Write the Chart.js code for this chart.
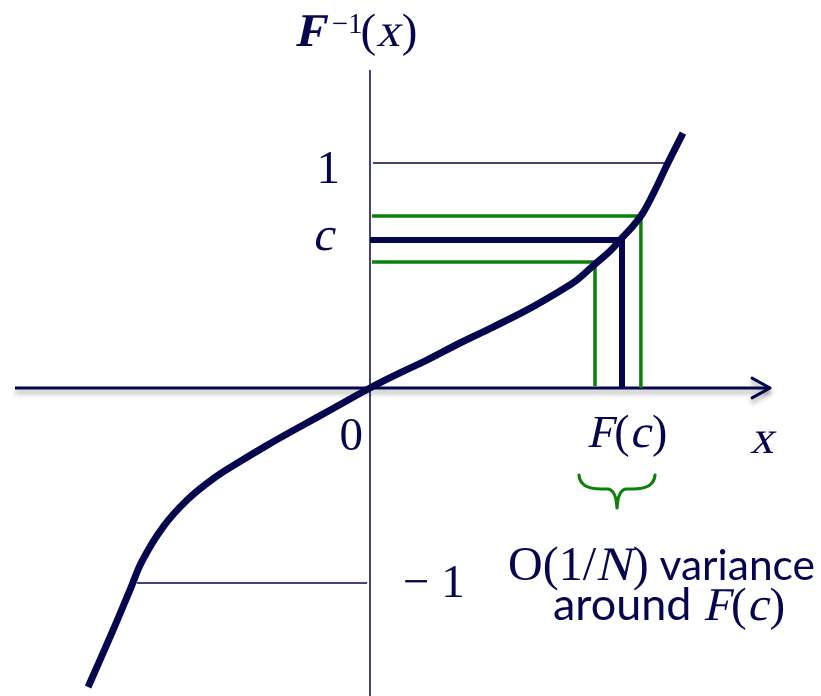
<!DOCTYPE html>
<html><head><meta charset="utf-8">
<script src="https://cdn.jsdelivr.net/npm/chart.js@4/dist/chart.umd.min.js"></script>
<style>html,body{margin:0;padding:0;background:#fff;overflow:hidden}canvas{display:block}</style>
</head><body>
<canvas id="c" width="821" height="696"></canvas>
<script>
// ---- data (unit = distance from 0 to the "1" level) ----
const curveX = [-1.253,-1.142,-1.067,-1.013,-0.92,-0.813,-0.698,-0.578,-0.458,-0.311,-0.164,0,0.133,0.253,0.4,0.547,0.698,0.844,0.92,1.0,1.067,1.12,1.169,1.213,1.267,1.324,1.391];
const curveY = [-1.329,-1.076,-0.898,-0.769,-0.618,-0.498,-0.404,-0.327,-0.255,-0.172,-0.091,0,0.067,0.124,0.2,0.271,0.347,0.431,0.48,0.551,0.609,0.667,0.72,0.778,0.88,1.0,1.133];
const levelOne = 1;
const levelMinusOne = -0.867;
const levelC = 0.658;
const levelCUpper = 0.764;
const levelCLower = 0.56;
const valueFc = 1.12;
const valueFcUpper = 1.204;
const valueFcLower = 1.0;
const curveAtOne = 1.324;
const curveAtMinusOne = -1.036;
const xAxisRange = [-1.578, 1.778];
const yAxisRange = [-1.369, 1.413];
const tickLabels = ['1', 'c', '0', '\u2212 1'];
const axisTitle = ['F', '\u22121', '(', 'x', ')'];
const xAxisLabel = 'x';
const fcLabel = ['F', '(', 'c', ')'];
const noteLine1 = ['O(1/', 'N', ')', ' variance'];
const noteLine2 = ['around ', 'F', '(', 'c', ')'];

const NAVY = '#06064e';
const GREEN = '#0b800b';

// pick an installed family (fall back through the list)
function pickFamily(cands, generic) {
  const cv = document.createElement('canvas').getContext('2d');
  const probe = 'xxWWiilc(0)1F';
  cv.font = '40px monospace';
  const base = cv.measureText(probe).width;
  for (const f of cands) {
    cv.font = '40px "' + f + '", monospace';
    if (Math.abs(cv.measureText(probe).width - base) > 0.5) return '"' + f + '", ' + generic;
  }
  return generic;
}
const SERIF = pickFamily(['Liberation Serif', 'Tinos', 'Times New Roman', 'Times', 'Nimbus Roman', 'FreeSerif', 'DejaVu Serif', 'Noto Serif'], 'serif');
const SANS = pickFamily(['Lato', 'Open Sans', 'Noto Sans', 'Liberation Sans'], 'sans-serif');
const SKEW = -0.22;
const pts = (xs, ys) => xs.map((x, i) => ({x, y: ys[i]}));

function line(data, color, width, order, extra) {
  return Object.assign({data, borderColor: color, borderWidth: width, pointRadius: 0,
    showLine: true, tension: 0, fill: false, order, borderJoinStyle: 'miter', borderCapStyle: 'butt'}, extra || {});
}

const datasets = [
  line(pts(curveX, curveY), NAVY, 7, 0, {tension: 0.4, cubicInterpolationMode: 'default', borderJoinStyle: 'round'}),
  line([{x: 0, y: levelC}, {x: valueFc, y: levelC}, {x: valueFc, y: 0}], NAVY, 6, 1),
  line([{x: 0.009, y: levelCUpper}, {x: valueFcUpper, y: levelCUpper}, {x: valueFcUpper, y: 0}], GREEN, 3.5, 2),
  line([{x: 0.009, y: levelCLower}, {x: valueFcLower, y: levelCLower}, {x: valueFcLower, y: 0.008}], GREEN, 3.5, 2),
  line([{x: 0.013, y: levelOne}, {x: curveAtOne, y: levelOne}], NAVY, 1.5, 3),
  line([{x: curveAtMinusOne, y: levelMinusOne}, {x: -0.013, y: levelMinusOne}], NAVY, 1.5, 3),
  line([{x: 0, y: yAxisRange[1]}, {x: 0, y: yAxisRange[0]}], NAVY, 1.5, 4),
  line([{x: xAxisRange[0], y: 0}, {x: xAxisRange[1], y: 0}], NAVY, 3, 5, {label: 'shadow'}),
  line([{x: xAxisRange[1] - 0.08, y: 0.044}, {x: xAxisRange[1], y: 0}, {x: xAxisRange[1] - 0.08, y: -0.044}], NAVY, 3, 5, {label: 'shadow', borderJoinStyle: 'round', borderCapStyle: 'round'})
];

const shadowPlugin = {
  id: 'shadow',
  beforeDatasetDraw(chart, args) {
    const ds = chart.data.datasets[args.index];
    chart.ctx.save();
    if (ds.label === 'shadow') {
      chart.ctx.shadowColor = 'rgba(0,0,0,0.35)';
      chart.ctx.shadowBlur = 5;
      chart.ctx.shadowOffsetY = 4;
    }
  },
  afterDatasetDraw(chart) { chart.ctx.restore(); }
};

function fillSkew(ctx, t, x, y) {
  ctx.save();
  ctx.translate(x, y);
  ctx.transform(1, 0, SKEW, 1, 0, 0);
  ctx.fillText(t, 0, 0);
  ctx.restore();
}
function drawRuns(ctx, runs, x, y) {
  for (const r of runs) {
    ctx.font = r.f;
    x += (r.dx || 0);
    if (r.it) fillSkew(ctx, r.t, x, y + (r.dy || 0));
    else ctx.fillText(r.t, x, y + (r.dy || 0));
    x += ctx.measureText(r.t).width + (r.it ? 2 : 0);
  }
  return x;
}
function runsWidth(ctx, runs) {
  let w = 0;
  for (const r of runs) { ctx.font = r.f; w += (r.dx || 0) + ctx.measureText(r.t).width + (r.it ? 2 : 0); }
  return w;
}
function fitSans(ctx, text, target) {
  ctx.font = '40px ' + SANS;
  return Math.round(40 * target / ctx.measureText(text).width * 10) / 10;
}

const textPlugin = {
  id: 'texts',
  afterDatasetsDraw(chart) {
    const ctx = chart.ctx;
    const px = v => chart.scales.x.getPixelForValue(v);
    const py = v => chart.scales.y.getPixelForValue(v);
    const ox = px(0), oy = py(0);
    ctx.save();
    ctx.fillStyle = NAVY;
    ctx.textBaseline = 'alphabetic';
    ctx.textAlign = 'left';
    const S = sz => sz + 'px ' + SERIF;

    // axis title F^-1(x)
    drawRuns(ctx, [
      {t: axisTitle[0], f: 'bold ' + S(47), it: true},
      {t: axisTitle[1], f: S(29), dx: 6, dy: -13},
      {t: axisTitle[2], f: S(47), dx: -2},
      {t: axisTitle[3], f: S(47), it: true},
      {t: axisTitle[4], f: S(47)}
    ], ox - 75, py(yAxisRange[1]) - 24);

    // tick labels
    ctx.font = S(47);
    ctx.textAlign = 'right';
    ctx.fillText(tickLabels[0], ox - 30, py(levelOne) + 20);
    ctx.fillText(tickLabels[2], ox - 7, oy + 62);
    ctx.textAlign = 'left';
    const cw = ctx.measureText(tickLabels[1]).width;
    fillSkew(ctx, tickLabels[1], ox - 37 - cw, py(levelC) + 10);
    ctx.fillText(tickLabels[3], ox + 33, py(levelMinusOne) + 14);

    // F(c) label
    const fcRuns = [{t: fcLabel[0], f: S(46), it: true}, {t: fcLabel[1], f: S(46)}, {t: fcLabel[2], f: S(46), it: true}, {t: fcLabel[3], f: S(46)}];
    const fcW = runsWidth(ctx, fcRuns);
    drawRuns(ctx, fcRuns, px(valueFc) + 5 - fcW / 2, oy + 59);

    // x label
    ctx.font = S(47);
    fillSkew(ctx, xAxisLabel, px(xAxisRange[1]) - 20, oy + 65);

    // brace
    const bc = px(valueFc) - 5, bt = oy + 87;
    ctx.strokeStyle = GREEN; ctx.lineWidth = 3.2; ctx.lineCap = 'round'; ctx.lineJoin = 'round';
    ctx.beginPath();
    ctx.moveTo(bc - 38, bt);
    ctx.quadraticCurveTo(bc - 37, bt + 14, bc - 16, bt + 14);
    ctx.lineTo(bc - 9, bt + 14);
    ctx.quadraticCurveTo(bc - 1, bt + 15, bc, bt + 33);
    ctx.quadraticCurveTo(bc + 1, bt + 15, bc + 9, bt + 14);
    ctx.lineTo(bc + 16, bt + 14);
    ctx.quadraticCurveTo(bc + 37, bt + 14, bc + 38, bt);
    ctx.stroke();

    // note
    const l1x = px(valueFc) - 114, l1end = px(valueFc) + 193;
    const serif1 = [
      {t: noteLine1[0], f: S(48)},
      {t: noteLine1[1], f: S(48), it: true},
      {t: noteLine1[2], f: S(48)}
    ];
    const afterSerif = l1x + runsWidth(ctx, serif1);
    const s1 = fitSans(ctx, noteLine1[3], l1end - afterSerif);
    drawRuns(ctx, serif1.concat([{t: noteLine1[3], f: s1 + 'px ' + SANS}]), l1x, oy + 192);
    const s2 = fitSans(ctx, noteLine2[0], 150);
    drawRuns(ctx, [
      {t: noteLine2[0], f: s2 + 'px ' + SANS},
      {t: noteLine2[1], f: S(47), it: true},
      {t: noteLine2[2], f: S(47)},
      {t: noteLine2[3], f: S(47), it: true},
      {t: noteLine2[4], f: S(47)}
    ], px(valueFc) - 69, oy + 232);
    ctx.restore();
  }
};

const U = 225;
new Chart(document.getElementById('c'), {
  type: 'scatter',
  data: {datasets},
  options: {
    responsive: false, animation: false, events: [],
    layout: {padding: 0},
    plugins: {legend: {display: false}, tooltip: {enabled: false}},
    scales: {
      x: {type: 'linear', display: false, min: -370 / U, max: 451 / U},
      y: {type: 'linear', display: false, min: -308 / U, max: 388 / U}
    },
    datasets: {scatter: {clip: false}}
  },
  plugins: [shadowPlugin, textPlugin]
});
</script>
</body></html>
